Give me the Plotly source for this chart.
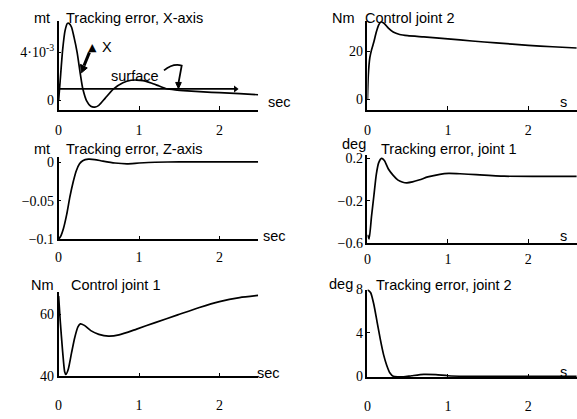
import plotly.graph_objects as go

W, H = 577, 419

# ---------------- data ----------------
# Tracking error, X-axis (metres)
t_ex = [0, 0.02, 0.05, 0.08, 0.11, 0.13, 0.16, 0.19, 0.23, 0.27, 0.30, 0.35, 0.40, 0.45,
        0.50, 0.58, 0.68, 0.80, 0.90, 0.97, 1.05, 1.15, 1.25, 1.34, 1.45, 1.6, 1.8, 2.0, 2.25, 2.48]
e_x = [0, 0.0017, 0.0042, 0.0058, 0.0064, 0.0064, 0.0061, 0.0053, 0.0040, 0.0022, 0.0010,
       -0.00005, -0.00048, -0.00055, -0.0004, 0.0002, 0.00095, 0.00148, 0.00168, 0.0017,
       0.00165, 0.00145, 0.0012, 0.00098, 0.00088, 0.0008, 0.00072, 0.00065, 0.00057, 0.00048]
surface_level = 0.00096
surface_t = [0, 2.2]

# Control joint 2 (Nm)
t_u2 = [0, 0.01, 0.03, 0.05, 0.08, 0.11, 0.14, 0.17, 0.21, 0.26, 0.32, 0.4, 0.5, 0.7, 1.0,
        1.3, 1.6, 2.0, 2.3, 2.6]
u2 = [0, 10, 17.5, 20.5, 24, 28, 31, 32.3, 31.5, 29.6, 28.0, 27.0, 26.5, 26.0, 25.2, 24.3,
      23.5, 22.5, 21.9, 21.4]

# Tracking error, Z-axis (metres)
t_ez = [0, 0.03, 0.06, 0.1, 0.14, 0.18, 0.22, 0.26, 0.3, 0.37, 0.45, 0.55, 0.7, 0.85, 1.0,
        1.2, 1.5, 2.0, 2.48]
e_z = [-0.1, -0.095, -0.086, -0.068, -0.045, -0.026, -0.011, -0.002, 0.002, 0.004, 0.0035,
       0.0015, -0.001, -0.002, -0.001, 0.0, 0.0005, 0.0005, 0.0005]

# Tracking error, joint 1 (deg)
t_e1 = [0, 0.02, 0.05, 0.08, 0.11, 0.14, 0.175, 0.21, 0.26, 0.32, 0.38, 0.44, 0.49, 0.56,
        0.65, 0.75, 0.9, 1.01, 1.15, 1.35, 1.7, 2.1, 2.6]
e_1 = [-0.52, -0.56, -0.35, -0.15, 0.05, 0.16, 0.20, 0.18, 0.1, 0.04, -0.005, -0.025, -0.03,
       -0.022, -0.002, 0.025, 0.05, 0.058, 0.055, 0.046, 0.032, 0.03, 0.03]

# Control joint 1 (Nm)
t_u1 = [0, 0.02, 0.05, 0.075, 0.09, 0.12, 0.16, 0.2, 0.24, 0.27, 0.32, 0.4, 0.5, 0.62, 0.75,
        0.97, 1.2, 1.48, 1.75, 2.0, 2.25, 2.48]
u1 = [66, 58, 48, 41.5, 40.6, 42.3, 47.5, 52.5, 56, 57.0, 56.5, 54.8, 53.6, 53.0, 53.4, 55.3,
      57.4, 59.9, 62.3, 64.2, 65.5, 66.2]

# Tracking error, joint 2 (deg)
t_e2 = [0, 0.04, 0.08, 0.12, 0.16, 0.2, 0.24, 0.28, 0.32, 0.38, 0.45, 0.55, 0.7, 0.85, 1.0,
        1.2, 2.6]
e_2 = [8.0, 7.7, 6.6, 5.0, 3.4, 2.0, 1.0, 0.3, 0.0, -0.05, -0.05, 0.05, 0.18, 0.15, 0.05,
       0.0, 0.0]

# ---------------- layout helpers ----------------
def xdom(l, r):
    return [l / W, r / W]

def ydom(top, bot):
    return [1 - bot / H, 1 - top / H]

def cal(v0, p0, v1, p1, a, b):
    s = (p1 - p0) / (v1 - v0)
    return [v0 + (a - p0) / s, v0 + (b - p0) / s]

TICKFONT = dict(family="Liberation Serif", size=14, color="black")
TXTFONT = dict(family="Liberation Sans", size=14.5, color="black")
LINE = dict(color="black", width=1.7)

# panel: series, x0px, x(1 s)px, right px, top px, bottom px, y calibration,
#        ytickvals, ytexts, x-label standoff
panels = [
    (t_ex, e_x, 55, 136, 256, 15, 107, (0, 97, 0.004, 47),
     [0, 0.004], ["0", "4·10<sup>-3</sup>"], 6),
    (t_u2, u2, 366, 447, 577, 15, 107, (0, 96, 20, 46), [0, 20], ["0", "20"], 6),
    (t_ez, e_z, 55, 136, 256, 156, 241, (0, 161, -0.1, 241),
     [-0.1, -0.05, 0], ["−0.1", "−0.05", "0"], 4),
    (t_e1, e_1, 366, 447, 577, 154, 245, (0.2, 157, -0.6, 245),
     [-0.6, -0.2, 0.2], ["−0.6", "−0.2", "0.2"], 2),
    (t_u1, u1, 55, 136, 256, 296, 383, (40, 383, 60, 319), [40, 60], ["40", "60"], 15),
    (t_e2, e_2, 366, 447, 577, 293, 384, (0, 383, 8, 293), [0, 4, 8], ["0", "4", "8"], 15),
]

fig = go.Figure()
layout = {}
for i, (tt, vv, x0, x1, xr, ytop, ybot, yc, ytv, ytt, sto) in enumerate(panels, start=1):
    sfx = "" if i == 1 else str(i)
    fig.add_trace(go.Scatter(x=tt, y=vv, mode="lines",
                             line=dict(shape="spline", smoothing=0.6, **LINE),
                             xaxis="x" + sfx, yaxis="y" + sfx, showlegend=False,
                             hoverinfo="skip"))
    pps = x1 - x0
    layout["xaxis" + sfx] = dict(
        domain=xdom(x0, xr), range=[0, (xr - x0) / pps], anchor="y" + sfx,
        showline=True, linecolor="black", linewidth=1.5, showgrid=False, zeroline=False,
        tickvals=[0, 1, 2], ticktext=["0", "1", "2"], ticks="inside", ticklen=4,
        tickcolor="black", tickwidth=1.3, tickfont=TICKFONT, ticklabelstandoff=sto)
    layout["yaxis" + sfx] = dict(
        domain=ydom(ytop, ybot), range=cal(*yc, ybot, ytop), anchor="x" + sfx,
        showline=True, linecolor="black", linewidth=1.5, showgrid=False, zeroline=False,
        tickvals=ytv, ticktext=ytt, ticks="inside", ticklen=3, tickcolor="black",
        tickfont=TICKFONT, ticklabelstandoff=0)

# surface line in X-axis panel
fig.add_trace(go.Scatter(x=surface_t, y=[surface_level, surface_level], mode="lines",
                         line=dict(color="black", width=1.7),
                         xaxis="x", yaxis="y", showlegend=False, hoverinfo="skip"))
fig.add_trace(go.Scatter(x=[surface_t[-1]], y=[surface_level], mode="markers",
                         marker=dict(symbol="triangle-right", size=6, color="black"),
                         xaxis="x", yaxis="y", showlegend=False, hoverinfo="skip"))

annotations = []

def txt(text, xpx, ypx, font=TXTFONT, anchor="left"):
    annotations.append(dict(text=text, x=xpx / W, y=1 - ypx / H, xref="paper", yref="paper",
                            xanchor=anchor, yanchor="middle", showarrow=False, font=font))

titles = [
    ("mt", 28, 11, "Tracking error, X-axis", 60, 11),
    ("Nm", 328, 11, "Control joint 2", 362, 11),
    ("mt", 28, 147, "Tracking error, Z-axis", 60, 147),
    ("deg", 338, 142, "Tracking error, joint 1", 378, 147),
    ("Nm", 25, 288, "Control joint 1", 65, 288),
    ("deg", 325, 287, "Tracking error, joint 2", 373, 288),
]
for u, ux, uy, tt, tx, ty in titles:
    txt(u, ux, uy)
    txt(tt, tx, ty)

for ypx, xpx, lab in [(99, 264, "sec"), (238, 259, "sec"), (380, 253, "sec"),
                      (99, 558, "s"), (238, 558, "s"), (379, 558, "s")]:
    txt(lab, xpx, ypx)

# Delta X label
txt("▲", 83, 42, font=dict(family="DejaVu Sans", size=11, color="black"))
txt("X", 97, 41)
# thick arrow from the label down to the curve (data coordinates of the panel)
fig.add_shape(type="line", xref="x", yref="y", x0=0.383, y0=0.0040, x1=0.316, y1=0.0029,
              line=dict(color="black", width=3))
fig.add_shape(type="path", xref="x", yref="y",
              path="M 0.284,0.0023 L 0.356,0.0027 L 0.272,0.0030 Z",
              fillcolor="black", line=dict(color="black", width=1))

# surface label with hooked arrow
txt("surface", 106, 72)
fig.add_shape(type="path", xref="x", yref="y",
              path="M 1.31,0.0025 Q 1.42,0.0031 1.53,0.0029 L 1.49,0.00145",
              line=dict(color="black", width=1.8))
fig.add_shape(type="path", xref="x", yref="y",
              path="M 1.49,0.00098 L 1.455,0.0015 L 1.525,0.0015 Z",
              fillcolor="black", line=dict(color="black", width=1))

layout.update(dict(width=W, height=H, autosize=False, margin=dict(l=0, r=0, t=0, b=0),
                   paper_bgcolor="white", plot_bgcolor="white", annotations=annotations))
fig.update_layout(**layout)
fig.write_html("out.html")
